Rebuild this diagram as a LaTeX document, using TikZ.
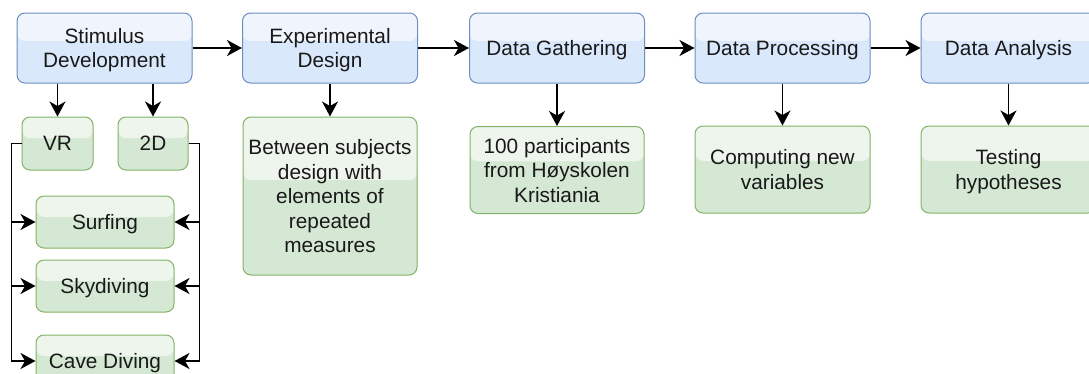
\documentclass[tikz,border=0pt]{standalone}
\usepackage{fontspec}
\setmainfont{Liberation Sans}
\usetikzlibrary{arrows.meta,calc}
\definecolor{bfill}{HTML}{DAE8FC}
\definecolor{bdraw}{HTML}{6C8EBF}
\definecolor{gfill}{HTML}{D5E8D4}
\definecolor{gdraw}{HTML}{82B366}
\tikzset{
 box/.style={rounded corners=8pt, line width=1pt, inner sep=0pt, align=center,
   font=\fontsize{20.8}{24.5}\selectfont, text=black!90, text depth=-2pt},
 glass/.style={path picture={\fill[white,opacity=0.6] (path picture bounding box.north west) rectangle ($(path picture bounding box.north east)!0.4!(path picture bounding box.south east)$);}},
 bluebox/.style={box, draw=bdraw, fill=bfill, glass},
 greenbox/.style={box, draw=gdraw, fill=gfill, glass},
 topsize/.style={minimum width=175pt, minimum height=70pt},
 resultsize/.style={minimum width=175pt, minimum height=87pt},
 listsize/.style={minimum width=138pt, minimum height=52pt},
 arr/.style={-{Stealth[length=15pt,width=16pt,inset=4.5pt]}, line width=1.8pt, black},
}
\begin{document}
\begin{tikzpicture}[x=1pt,y=-1pt]
\useasboundingbox (0,0) rectangle (1089,373);
% top row
\node[bluebox, topsize] (sd) at (104.5,48) {Stimulus\\Development};
\node[bluebox, topsize] (ed) at (330,48) {Experimental\\Design};
\node[bluebox, topsize] (dg) at (557,48) {Data Gathering};
\node[bluebox, topsize] (dp) at (782.5,48) {Data Processing};
\node[bluebox, topsize] (da) at (1008.5,48) {Data Analysis};
% stimulus children
\node[greenbox, minimum width=71pt, minimum height=53pt] (vr) at (57.5,143.5) {VR};
\node[greenbox, minimum width=70pt, minimum height=53pt] (td) at (153,143.5) {2D};
\node[greenbox, listsize] (surf) at (105,222) {Surfing};
\node[greenbox, listsize] (sky) at (105,286) {Skydiving};
\node[greenbox, listsize] (cave) at (105,361) {Cave Diving};
% results
\node[greenbox, minimum width=174pt, minimum height=158pt] (edg) at (330,196) {Between subjects\\design with\\elements of\\repeated\\measures};
\node[greenbox, resultsize, minimum width=174pt] (dgg) at (557,170) {100 participants\\from Høyskolen\\Kristiania};
\node[greenbox, resultsize] (dpg) at (782.5,169.5) {Computing new\\variables};
\node[greenbox, resultsize] (dag) at (1008.5,169.5) {Testing\\hypotheses};
% connectors
\draw[arr] (sd) -- (ed);
\draw[arr] (ed) -- (dg);
\draw[arr] (dg) -- (dp);
\draw[arr] (dp) -- (da);
\draw[arr] (ed) -- (edg);
\draw[arr] (dg) -- (dgg);
\draw[arr] (dp) -- (dpg);
\draw[arr] (da) -- (dag);
\draw[arr] (vr.north |- sd.south) -- (vr.north);
\draw[arr] (td.north |- sd.south) -- (td.north);
\coordinate (lx) at ($(vr.west)+(-10,0)$);
\coordinate (rx) at ($(td.east)+(11,0)$);
\draw[arr] (vr.west) -- (lx) |- (surf.west);
\draw[arr] (vr.west) -- (lx) |- (sky.west);
\draw[arr] (vr.west) -- (lx) |- (cave.west);
\draw[arr] (td.east) -- (rx) |- (surf.east);
\draw[arr] (td.east) -- (rx) |- (sky.east);
\draw[arr] (td.east) -- (rx) |- (cave.east);
\end{tikzpicture}
\end{document}
